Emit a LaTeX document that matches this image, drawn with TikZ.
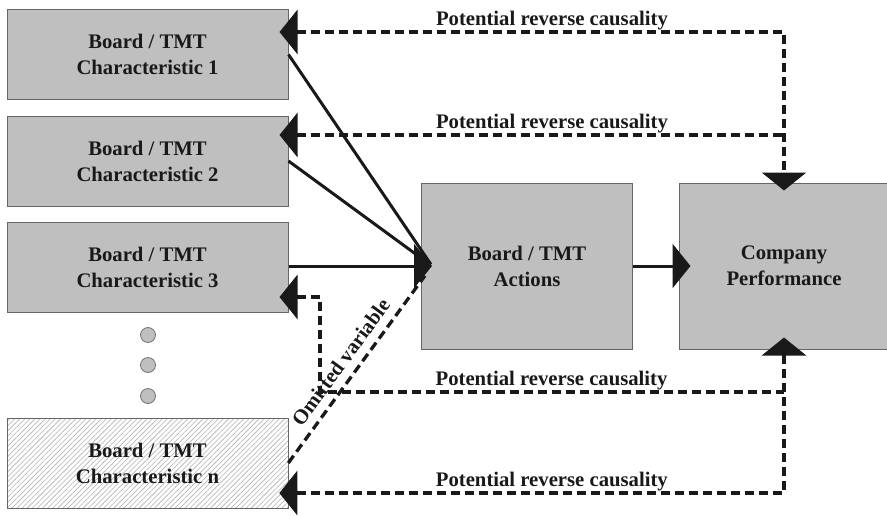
\documentclass[tikz,border=0pt]{standalone}
\usepackage{fontspec}
\setmainfont{Liberation Serif}
\usetikzlibrary{arrows.meta,patterns.meta}
\begin{document}
\begin{tikzpicture}[x=1pt,y=-1pt,
  boxfont/.style={font=\fontsize{20.7}{26}\selectfont\bfseries},
  box/.style={boxfont, draw=black!60, line width=1pt, fill=black!25,
    inner sep=0pt, align=center, text=black!90},
  leftbox/.style={box, minimum width=281pt, minimum height=90pt},
  bigbox/.style={box, minimum width=211pt, minimum height=166pt},
  hatchbox/.style={leftbox, fill=none, preaction={fill=white},
    pattern={Lines[angle=45,distance=3.6pt,line width=0.6pt]}, pattern color=black!30},
  dotnode/.style={circle, draw=black!55, fill=black!25, minimum size=15pt,
    inner sep=0pt, line width=0.8pt},
  bigtip/.tip={Triangle[length=18pt,width=44pt]},
  solidline/.style={line width=3pt, black!90},
  solidarrow/.style={solidline, -bigtip},
  dashline/.style={line width=3.3pt, black!90, dash pattern=on 9pt off 5pt},
  lbl/.style={boxfont, text=black!90, anchor=base, inner sep=0pt}
]
\useasboundingbox (0,0) rectangle (887,515);

% boxes
\node[leftbox] (b1) at (147.5,54.5) {Board / TMT\\Characteristic 1};
\node[leftbox] (b2) at (147.5,161) {Board / TMT\\Characteristic 2};
\node[leftbox] (b3) at (147.5,267) {Board / TMT\\Characteristic 3};
\node[hatchbox] (bn) at (147.5,463) {Board / TMT\\Characteristic n};
\node[bigbox] (act) at (527,266) {Board / TMT\\Actions};
\node[bigbox, minimum width=210pt] (comp) at (784,266) {Company\\Performance};

% dots
\node[dotnode] (d1) at (148,335) {};
\node[dotnode] (d2) at (148,365) {};
\node[dotnode] (d3) at (148,396) {};

% helper coordinates
\coordinate (c1) at (784,32);
\coordinate (c2) at (784,135);
\coordinate (c3) at (784,392);
\coordinate (c4) at (784,493);
\coordinate (k2) at (320,297);
\coordinate (k) at (320,392);
\coordinate (acttip) at ([xshift=11pt]act.west);

% solid arrows (converging on one arrowhead)
\draw[solidline, shorten >=2pt] (b1.east) -- (acttip);
\draw[solidline, shorten >=2pt] (b2.east) -- (acttip);
\draw[solidarrow] (b3.east |- acttip) -- (acttip);
\draw[solidarrow] (act.east) -- ([xshift=12pt]comp.west);

% omitted variable
\draw[dashline, shorten >=12pt] (bn.east) -- node[pos=0.46, sloped, above, inner sep=8pt, boxfont, text=black!90] {Omitted variable} (acttip);

% reverse causality
\draw[dashline, bigtip-bigtip] ([xshift=-9pt]b1.east |- c1) -- node[lbl, pos=0.54, yshift=7pt] {Potential reverse causality} (c1) -- ([yshift=-8pt]comp.north);
\draw[dashline, bigtip-] ([xshift=-9pt]b2.east |- c2) -- node[lbl, pos=0.54, yshift=7pt] {Potential reverse causality} (c2);
\draw[dashline, bigtip-] ([xshift=-9pt]b3.east |- k2) -- (k2) -- (k) -- node[lbl, pos=0.499, yshift=7pt] {Potential reverse causality} (c3);
\draw[dashline, bigtip-bigtip] ([yshift=12pt]comp.south) -- (c4) -- node[lbl, pos=0.46, yshift=7pt] {Potential reverse causality} ([xshift=-9pt]bn.east |- c4);
\end{tikzpicture}
\end{document}
